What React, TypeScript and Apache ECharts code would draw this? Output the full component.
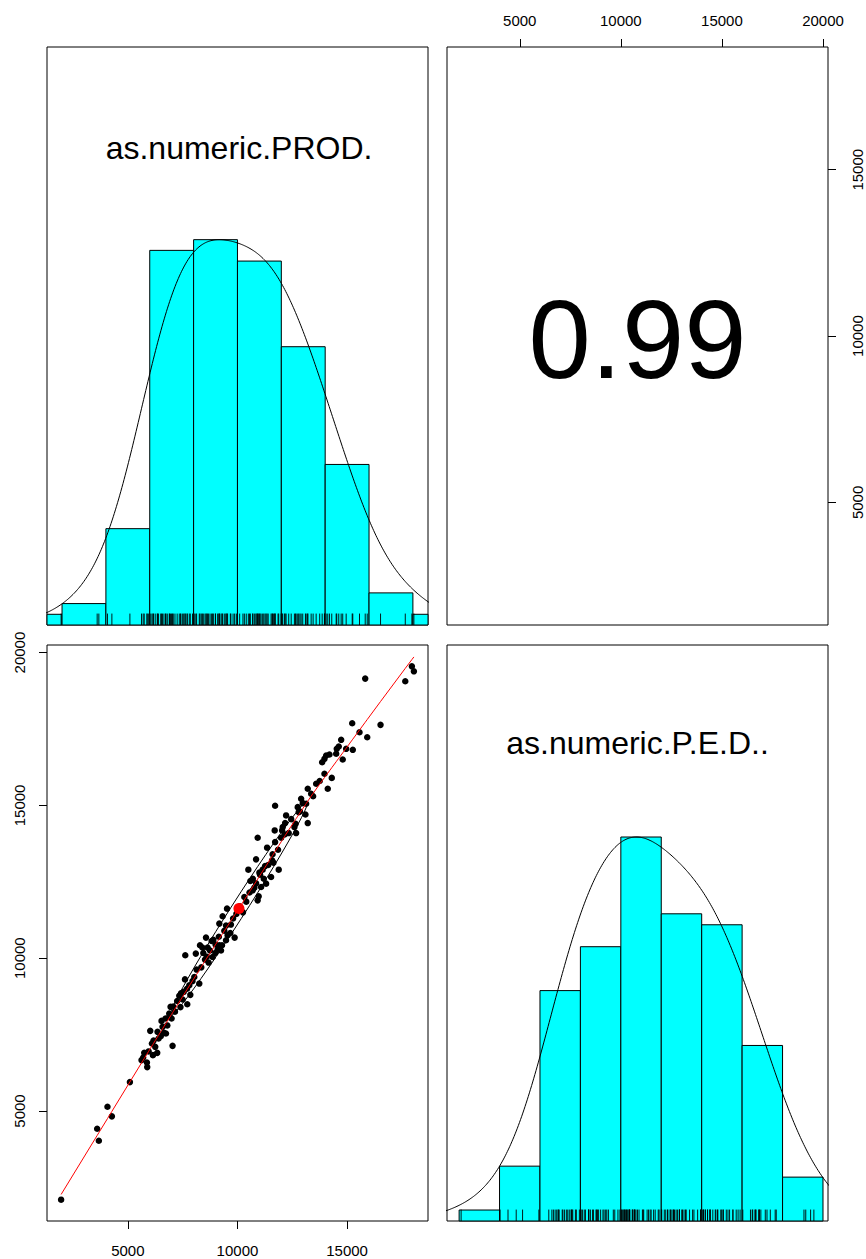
import React, { useEffect, useRef } from "react";
import * as echarts from "echarts";

// ---- data ----
const PROD = [
  1958, 3602, 3679, 4072, 4273, 5095, 5625, 5748, 5871, 5885,
  6022, 6099, 6145, 6173, 6341, 6355, 6401, 6538, 6584, 6648,
  6739, 6720, 6889, 6994, 7040, 6949, 7072, 7346, 7423, 7606,
  7620, 7711, 7803, 8031, 8136, 8259, 8291, 8442, 8565, 8520,
  8638, 8684, 8821, 8867, 8990, 9095, 9172, 9295, 9478, 9675,
  9871, 9524, 9323, 9172, 9478, 10314, 10496, 10588, 10693, 10770,
  10848, 10921, 10967, 11031, 11077, 10921, 11149, 11259, 11305, 11351,
  11533, 11579, 11638, 11698, 11716, 11881, 11990, 12036, 12063, 12173,
  12218, 11716, 12337, 12597, 12674, 12748, 12793, 12903, 12976, 13205,
  13131, 13205, 13360, 13588, 13862, 13967, 13967, 14044, 14117, 14195,
  14501, 14528, 14619, 14729, 14957, 15259, 15232, 15565, 15917, 15825,
  16524, 17652, 17953, 18045,
  5700, 5950, 6250, 6500, 6800, 6900, 7150, 7250, 7400, 7500,
  7550, 7700, 7850, 7950, 8350, 8100, 8400, 8600, 8750, 8900,
  9000, 9150, 9250, 9400, 9550, 9700, 9800, 9950, 10100, 10250,
  10400, 10550, 10700, 10850, 11000, 11200, 11400, 11600, 11850, 12150,
  12450, 12650, 12850, 13100, 13450, 13750, 14300, 14800,
];
const PED = [
  2099, 4419, 4027, 5139, 4825, 5946, 6665, 6903, 6589, 6436,
  7622, 7210, 6828, 7305, 6903, 7590, 7374, 7949, 7753, 7557,
  7537, 8027, 8191, 8027, 7132, 8409, 8420, 8771, 8848, 9306,
  10096, 8495, 9116, 9386, 9628, 9170, 10422, 10171, 10674, 9955,
  10347, 9857, 10563, 10040, 10171, 10282, 10422, 10422, 10586, 10824,
  10674, 11622, 11371, 11132, 11067, 12002, 12897, 12525, 12221, 12309,
  13234, 11893, 12024, 12733, 12328, 13943, 12897, 13014, 12439, 13616,
  12655, 13201, 13126, 14181, 13799, 12897, 13943, 14181, 14290, 14421,
  14672, 14989, 14094, 14290, 14094, 14943, 14780, 15217, 15074, 14421,
  15053, 15544, 15380, 15707, 16413, 16524, 16034, 16632, 15544, 16665,
  16688, 16851, 16926, 17145, 16851, 16818, 17688, 17394, 17230, 19148,
  17635, 19060, 19550, 19387,
  6750, 6950, 7100, 7450, 7800, 8100, 8250, 8600, 8400, 8650,
  8900, 9000, 8800, 9250, 9700, 10150, 10350, 10050, 10250, 10600,
  10450, 10700, 10250, 10900, 10750, 11100, 11300, 11450, 11700, 11500,
  11850, 12150, 12600, 12450, 12800, 12600, 13050, 13400, 13550, 14050,
  14550, 14400, 14800, 14700, 15300, 15800, 15900, 16500,
];
const BREAKS = [0, 2000, 4000, 6000, 8000, 10000, 12000, 14000, 16000, 18000, 20000];
const PROD_COUNTS = [1, 2, 9, 35, 36, 34, 26, 15, 3, 1];
const PED_COUNTS = [0, 1, 5, 21, 25, 35, 28, 27, 16, 4];
const TICKS_PROD = [5000, 10000, 15000];
const TICKS_PED = [5000, 10000, 15000, 20000];
const VAR_NAMES = ["as.numeric.PROD.", "as.numeric.P.E.D.."];
const COR_TEXT = "0.99";
const DENSITY_ADJUST = 1.5;

// ---- helpers (stat computations, like R does) ----
const mean = (a: number[]) => a.reduce((s, v) => s + v, 0) / a.length;
const sd = (a: number[]) => {
  const m = mean(a);
  return Math.sqrt(a.reduce((s, v) => s + (v - m) * (v - m), 0) / (a.length - 1));
};
const quantile = (a: number[], p: number) => {
  const s = [...a].sort((x, y) => x - y);
  const h = (s.length - 1) * p;
  const lo = Math.floor(h);
  return s[lo] + (h - lo) * ((s[lo + 1] ?? s[lo]) - s[lo]);
};
const padRange = (a: number[]): [number, number] => {
  const mn = Math.min(...a), mx = Math.max(...a);
  const r = mx - mn;
  return [mn - 0.04 * r, mx + 0.04 * r];
};
function density(a: number[]): number[][] {
  const n = a.length;
  const s = sd(a);
  const iqr = quantile(a, 0.75) - quantile(a, 0.25);
  const bw = DENSITY_ADJUST * 0.9 * Math.min(s, iqr / 1.34) * Math.pow(n, -0.2);
  const lo = Math.min(...a) - 3 * bw, hi = Math.max(...a) + 3 * bw;
  const pts: number[][] = [];
  for (let i = 0; i < 512; i++) {
    const x = lo + ((hi - lo) * i) / 511;
    let d = 0;
    for (const v of a) {
      const z = (x - v) / bw;
      d += Math.exp(-0.5 * z * z);
    }
    pts.push([x, d]);
  }
  const mx = Math.max(...pts.map((p) => p[1]));
  return pts.map((p) => [p[0], p[1] / mx]);
}
function lowess(xIn: number[], yIn: number[], f = 2 / 3, nsteps = 3): number[][] {
  const n = xIn.length;
  const order = xIn.map((_, i) => i).sort((a, b) => xIn[a] - xIn[b]);
  const x = order.map((i) => xIn[i]);
  const y = order.map((i) => yIn[i]);
  const ns = Math.max(2, Math.min(n, Math.floor(f * n + 1e-7)));
  const ys = new Array(n).fill(0);
  const rw = new Array(n).fill(1);
  const res = new Array(n).fill(0);
  const range = x[n - 1] - x[0];
  for (let iter = 1; iter <= nsteps + 1; iter++) {
    let nleft = 0, nright = ns - 1;
    for (let i = 0; i < n; i++) {
      while (nright < n - 1 && x[i] - x[nleft] > x[nright + 1] - x[i]) { nleft++; nright++; }
      const h = Math.max(x[i] - x[nleft], x[nright] - x[i]);
      const w = new Array(n).fill(0);
      let a = 0;
      let j = nleft;
      for (; j < n; j++) {
        const r = Math.abs(x[j] - x[i]);
        if (r <= 0.999 * h) {
          w[j] = r <= 0.001 * h ? 1 : Math.pow(1 - Math.pow(r / h, 3), 3);
          if (iter > 1) w[j] *= rw[j];
          a += w[j];
        } else if (x[j] > x[i]) break;
      }
      const nrt = j - 1;
      if (a <= 0) { ys[i] = y[i]; continue; }
      for (let k = nleft; k <= nrt; k++) w[k] /= a;
      if (h > 0) {
        let m = 0;
        for (let k = nleft; k <= nrt; k++) m += w[k] * x[k];
        let b = x[i] - m;
        let c = 0;
        for (let k = nleft; k <= nrt; k++) c += w[k] * (x[k] - m) * (x[k] - m);
        if (Math.sqrt(c) > 0.001 * range) {
          b /= c;
          for (let k = nleft; k <= nrt; k++) w[k] *= b * (x[k] - m) + 1;
        }
      }
      let sv = 0;
      for (let k = nleft; k <= nrt; k++) sv += w[k] * y[k];
      ys[i] = sv;
    }
    for (let i = 0; i < n; i++) res[i] = y[i] - ys[i];
    if (iter > nsteps) break;
    const sc = res.reduce((s, v) => s + Math.abs(v), 0) / n;
    const absr = res.map(Math.abs).sort((p, q) => p - q);
    const m1 = Math.floor(n / 2);
    const cmad = n % 2 === 0 ? 3 * (absr[m1] + absr[n - m1 - 1]) : 6 * absr[m1];
    if (cmad < 1e-7 * sc) break;
    for (let i = 0; i < n; i++) {
      const r = Math.abs(res[i]);
      rw[i] = r <= 0.001 * cmad ? 1 : r <= 0.999 * cmad ? Math.pow(1 - Math.pow(r / cmad, 2), 2) : 0;
    }
  }
  return x.map((xi, i) => [xi, ys[i]]);
}
function corEllipse(a: number[], b: number[]): number[][] {
  const xm = mean(a), ym = mean(b), xs = sd(a), ysd = sd(b);
  let cov = 0;
  for (let i = 0; i < a.length; i++) cov += (a[i] - xm) * (b[i] - ym);
  cov /= a.length - 1;
  const r = cov / (xs * ysd);
  const th = Math.sign(r) / Math.SQRT2;
  const s1 = Math.sqrt(1 + r), s2 = Math.sqrt(1 - r);
  const pts: number[][] = [];
  const seg = 51;
  for (let i = 0; i <= seg; i++) {
    const ang = (i * 2 * Math.PI) / seg;
    const c = Math.cos(ang), s = Math.sin(ang);
    const ex = c * s1 * th + s * s2 * -th;
    const ey = c * s1 * th + s * s2 * th;
    pts.push([ex * xs + xm, ey * ysd + ym]);
  }
  return pts;
}

const histData = (counts: number[]) => {
  const mx = Math.max(...counts);
  return counts
    .map((c, i) => [BREAKS[i], BREAKS[i + 1], c / mx])
    .filter((d) => d[2] > 0);
};

// ---- layout ----
const COLS = [{ left: 47, width: 381 }, { left: 447, width: 381 }];
const ROWS = [{ top: 47, height: 578 }, { top: 645, height: 576 }];
const FONT = "Liberation Sans";

function buildOption() {
  const prodR = padRange(PROD);
  const pedR = padRange(PED);
  const scatter = PROD.map((v, i) => [v, PED[i]]);
  const grids = [
    { ...COLS[0], ...ROWS[0] },
    { ...COLS[1], ...ROWS[0] },
    { ...COLS[0], ...ROWS[1] },
    { ...COLS[1], ...ROWS[1] },
  ].map((g) => ({ ...g, show: true, borderColor: "#000", borderWidth: 1, backgroundColor: "transparent", containLabel: false, outerBoundsMode: "none" }));

  const hidden = { show: false };
  const labelBase = { fontSize: 15, fontFamily: FONT, color: "#000", formatter: (v: number) => String(v) };
  const tickBase = (vals: number[]) => ({ show: true, length: 8, inside: false, lineStyle: { color: "#000", width: 1 }, customValues: vals });

  const xAxis: any[] = [
    { gridIndex: 0, type: "value", min: prodR[0], max: prodR[1], ...hidden },
    {
      gridIndex: 1, type: "value", position: "top", min: pedR[0], max: pedR[1],
      axisLine: { show: false, onZero: false }, splitLine: { show: false },
      axisTick: tickBase(TICKS_PED),
      axisLabel: { ...labelBase, customValues: TICKS_PED, margin: 19 },
    },
    {
      gridIndex: 2, type: "value", position: "bottom", min: prodR[0], max: prodR[1],
      axisLine: { show: false, onZero: false }, splitLine: { show: false },
      axisTick: tickBase(TICKS_PROD),
      axisLabel: { ...labelBase, customValues: TICKS_PROD, margin: 22 },
    },
    { gridIndex: 3, type: "value", min: pedR[0], max: pedR[1], ...hidden },
  ];
  const yAxis: any[] = [
    { gridIndex: 0, type: "value", min: 0, max: 1.5, ...hidden },
    {
      gridIndex: 1, type: "value", position: "right", min: prodR[0], max: prodR[1],
      axisLine: { show: false, onZero: false }, splitLine: { show: false },
      axisTick: tickBase(TICKS_PROD),
      axisLabel: { ...labelBase, customValues: TICKS_PROD, rotate: 90, margin: 22 },
    },
    {
      gridIndex: 2, type: "value", position: "left", min: pedR[0], max: pedR[1],
      axisLine: { show: false, onZero: false }, splitLine: { show: false },
      axisTick: tickBase(TICKS_PED),
      axisLabel: { ...labelBase, customValues: TICKS_PED, rotate: 90, margin: 20 },
    },
    { gridIndex: 3, type: "value", min: 0, max: 1.5, ...hidden },
  ];

  const histSeries = (idx: number, counts: number[]) => ({
    type: "custom",
    xAxisIndex: idx, yAxisIndex: idx,
    data: histData(counts),
    encode: { x: [0, 1], y: 2 },
    renderItem: (params: any, api: any) => {
      const p0 = api.coord([api.value(0), 0]);
      const p1 = api.coord([api.value(1), api.value(2)]);
      const cs = params.coordSys;
      const shape = echarts.graphic.clipRectByRect(
        { x: p0[0], y: p1[1], width: p1[0] - p0[0], height: p0[1] - p1[1] },
        { x: cs.x, y: cs.y, width: cs.width, height: cs.height }
      );
      if (!shape) return null;
      return { type: "rect", shape, style: { fill: "#00ffff", stroke: "#000", lineWidth: 1 } };
    },
    silent: true,
  });
  const rugSeries = (idx: number, vals: number[]) => ({
    type: "custom",
    xAxisIndex: idx, yAxisIndex: idx,
    data: vals.map((v) => [v, 0]),
    encode: { x: 0, y: 1 },
    renderItem: (params: any, api: any) => {
      const p = api.coord([api.value(0), 0]);
      const cs = params.coordSys;
      const len = 0.03 * Math.min(cs.width, cs.height);
      return { type: "line", shape: { x1: p[0], y1: cs.y + cs.height, x2: p[0], y2: cs.y + cs.height - len }, style: { stroke: "#000", lineWidth: 0.9 } };
    },
    silent: true,
  });
  const densSeries = (idx: number, vals: number[]) => ({
    type: "line", xAxisIndex: idx, yAxisIndex: idx, data: density(vals),
    showSymbol: false, symbol: "none", clip: true, silent: true,
    lineStyle: { color: "#000", width: 1 },
  });

  const series: any[] = [
    histSeries(0, PROD_COUNTS),
    densSeries(0, PROD),
    rugSeries(0, PROD),
    histSeries(3, PED_COUNTS),
    densSeries(3, PED),
    rugSeries(3, PED),
    {
      type: "scatter", xAxisIndex: 2, yAxisIndex: 2, data: scatter,
      symbol: "circle", symbolSize: 6.5, itemStyle: { color: "#000", opacity: 1 }, silent: true,
    },
    {
      type: "scatter", xAxisIndex: 2, yAxisIndex: 2, data: [[mean(PROD), mean(PED)]],
      symbol: "circle", symbolSize: 11, itemStyle: { color: "#ff0000", opacity: 1 }, silent: true,
    },
    {
      type: "line", xAxisIndex: 2, yAxisIndex: 2, data: corEllipse(PROD, PED),
      showSymbol: false, symbol: "none", silent: true, lineStyle: { color: "#000", width: 1 },
    },
    {
      type: "line", xAxisIndex: 2, yAxisIndex: 2, data: lowess(PROD, PED),
      showSymbol: false, symbol: "none", silent: true, lineStyle: { color: "#ff0000", width: 1 },
    },
  ];

  const txt = (x: number, y: number, text: string, size: number) => ({
    type: "text", x, y, silent: true,
    style: { text, fontSize: size, fontFamily: FONT, fill: "#000", align: "center", verticalAlign: "middle", textAlign: "center", textVerticalAlign: "middle" },
  });

  return {
    animation: false,
    grid: grids,
    xAxis, yAxis, series,
    graphic: [
      txt(COLS[0].left + COLS[0].width / 2 + 1.5, 148, VAR_NAMES[0], 32),
      txt(COLS[1].left + COLS[1].width / 2, 339, COR_TEXT, 112),
      txt(COLS[1].left + COLS[1].width / 2, 743, VAR_NAMES[1], 32),
    ],
  };
}

export default function App() {
  const ref = useRef<HTMLDivElement>(null);
  useEffect(() => {
    const chart = echarts.init(ref.current!, null, { renderer: "svg" });
    chart.setOption(buildOption() as any);
    return () => chart.dispose();
  }, []);
  return <div ref={ref} style={{ position: "absolute", left: 0, top: 0, width: 866, height: 1259, background: "#fff" }} />;
}
